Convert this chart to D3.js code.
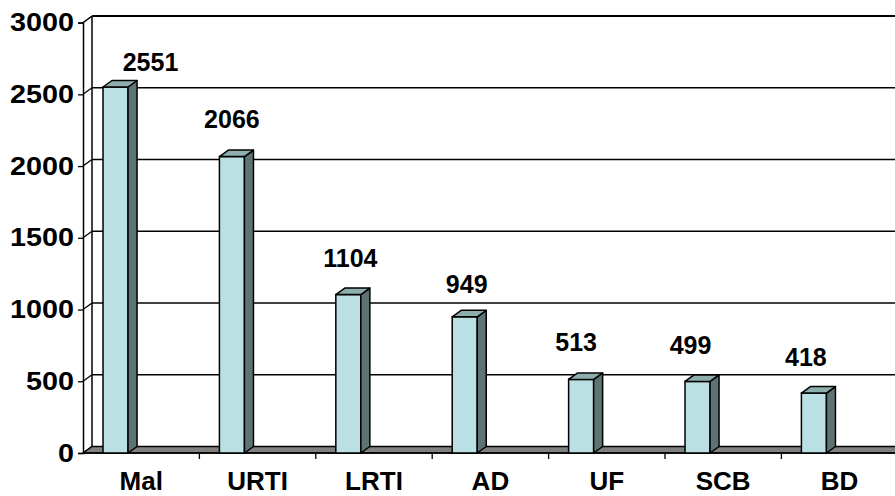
<!DOCTYPE html>
<html>
<head>
<meta charset="utf-8">
<script src="https://cdn.jsdelivr.net/npm/d3@7"></script>
<style>
  body { margin: 0; background: #fff; }
  text { font-family: "Liberation Sans", Arial, sans-serif; font-weight: bold; fill: #000; }
</style>
</head>
<body>
<div id="chart"></div>
<script>
// data
var categories = ['Mal', 'URTI', 'LRTI', 'AD', 'UF', 'SCB', 'BD']
var cases = [2551, 2066, 1104, 949, 513, 499, 418]
var yTicks = [0, 500, 1000, 1500, 2000, 2500, 3000]

// layout
var width = 895, height = 496
var x0 = 83, bandW = 116.4, baseY = 453, topY = 22.6
var depth = { dx: 9, dy: -6.5 }
// label tweaks (offset from bar centre / bar top), the way the original sat them
var labelNudge = [[35, -16], [0, -28.5], [2, -27.5], [2, -24], [-5, -28], [-7, -27.5], [-8, -27]]

var colFront = '#bbe0e3', colSide = '#5e7373', colTop = '#8eaeae', colFloor = '#808080'

var svg = d3.select('#chart').append('svg')
  .attr('width', width).attr('height', height)

var x = d3.scaleBand()
  .domain(categories)
  .range([x0, x0 + bandW * categories.length])

var y = d3.scaleLinear()
  .domain([0, 3000])
  .range([baseY, topY])

var dx = depth.dx, dy = depth.dy
var right = x0 + bandW * categories.length + 20

// back wall gridlines
svg.append('g').selectAll('line.grid')
  .data(yTicks.filter(d => d > 0))
  .enter().append('line')
  .attr('x1', x0 + dx).attr('x2', right)
  .attr('y1', d => y(d) + dy).attr('y2', d => y(d) + dy)
  .attr('stroke', '#000').attr('stroke-width', d => d == 3000 ? 2 : 1.5)

// side wall diagonals
svg.append('g').selectAll('line.diag')
  .data(yTicks)
  .enter().append('line')
  .attr('x1', x0).attr('x2', x0 + dx)
  .attr('y1', d => y(d)).attr('y2', d => y(d) + dy)
  .attr('stroke', '#000').attr('stroke-width', 1.3)

// back wall left edge
svg.append('line')
  .attr('x1', x0 + dx).attr('x2', x0 + dx)
  .attr('y1', y(3000) + dy).attr('y2', y(0) + dy)
  .attr('stroke', '#000').attr('stroke-width', 1.5)

// floor
svg.append('path')
  .attr('d', 'M' + x0 + ',' + y(0) + 'L' + (x0 + dx) + ',' + (y(0) + dy) +
    'L' + right + ',' + (y(0) + dy) + 'L' + right + ',' + y(0) + 'Z')
  .attr('fill', colFloor).attr('stroke', '#000').attr('stroke-width', 1.5)

// y axis (front)
var yAxis = svg.append('g')
  .attr('transform', 'translate(' + x0 + ',0)')
  .call(d3.axisLeft(y).tickValues(yTicks).tickSize(5).tickFormat(''))
yAxis.select('.domain').attr('stroke-width', 1.5)
yAxis.selectAll('.tick line').attr('stroke-width', 1.3)

svg.append('g').selectAll('text.ylab')
  .data(yTicks)
  .enter().append('text')
  .attr('transform', d => 'translate(' + (x0 - 9) + ',' + (y(d) + 8.5) + ') scale(1.15,1)')
  .attr('text-anchor', 'end')
  .style('font-size', '25px')
  .text(d => d)

// x axis (front)
var xAxis = svg.append('g')
  .attr('transform', 'translate(0,' + baseY + ')')
  .call(d3.axisBottom(x).tickSize(0).tickFormat(''))
xAxis.select('.domain').remove()
svg.append('line')
  .attr('x1', x0).attr('x2', right)
  .attr('y1', baseY).attr('y2', baseY)
  .attr('stroke', '#000').attr('stroke-width', 1.5)
svg.append('g').selectAll('line.xtick')
  .data(categories.slice(1))
  .enter().append('line')
  .attr('x1', d => x(d)).attr('x2', d => x(d))
  .attr('y1', baseY).attr('y2', baseY + 6)
  .attr('stroke', '#000').attr('stroke-width', 1.3)

svg.append('g').selectAll('text.xlab')
  .data(categories)
  .enter().append('text')
  .attr('x', d => x(d) + x.bandwidth() / 2)
  .attr('y', 490)
  .attr('text-anchor', 'middle')
  .style('font-size', '26px')
  .text(d => d)

// bars
var bw = x.bandwidth() * 0.215
var bx = d => x(d) + x.bandwidth() * 0.172

var bars = svg.append('g').selectAll('g.bar')
  .data(categories.map((c, i) => ({ cat: c, val: cases[i], i: i })))
  .enter().append('g')

bars.append('rect')
  .attr('x', d => bx(d.cat))
  .attr('y', d => y(d.val))
  .attr('width', bw)
  .attr('height', d => y(0) - y(d.val))
  .attr('fill', colFront).attr('stroke', '#000').attr('stroke-width', 1.5)

bars.append('path')
  .attr('d', d => {
    var a = bx(d.cat) + bw, t = y(d.val), b = y(0)
    return 'M' + a + ',' + t + 'L' + (a + dx) + ',' + (t + dy) +
      'L' + (a + dx) + ',' + (b + dy) + 'L' + a + ',' + b + 'Z'
  })
  .attr('fill', colSide).attr('stroke', '#000').attr('stroke-width', 1.5).attr('stroke-linejoin', 'round')

bars.append('path')
  .attr('d', d => {
    var l = bx(d.cat), r = l + bw, t = y(d.val)
    return 'M' + l + ',' + t + 'L' + (l + dx) + ',' + (t + dy) +
      'L' + (r + dx) + ',' + (t + dy) + 'L' + r + ',' + t + 'Z'
  })
  .attr('fill', colTop).attr('stroke', '#000').attr('stroke-width', 1.5).attr('stroke-linejoin', 'round')

// value labels
bars.append('text')
  .attr('x', d => bx(d.cat) + bw / 2 + labelNudge[d.i][0])
  .attr('y', d => y(d.val) + labelNudge[d.i][1])
  .attr('text-anchor', 'middle')
  .style('font-size', '25px')
  .text(d => d.val)
</script>
</body>
</html>
